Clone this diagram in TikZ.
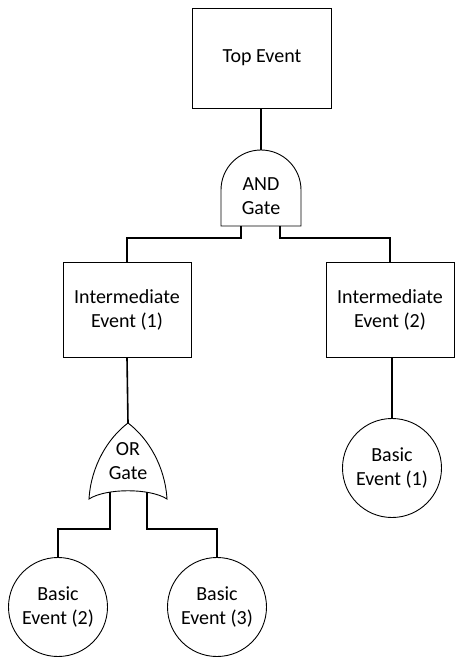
\documentclass[tikz,border=0pt]{standalone}
\usepackage{fontspec}
\setmainfont{Carlito}
\usetikzlibrary{calc,positioning}

\begin{document}
\begin{tikzpicture}[x=1pt, y=-1pt, font=\fontsize{20}{24}\selectfont]
        \tikzset{
            evt/.style ={draw, rectangle, line width=0.9pt, align=center, inner sep=0pt},
            bas/.style ={draw, circle, line width=0.9pt, minimum size=99pt, align=center, inner sep=0pt},
            gtxt/.style={align=center, inner sep=0pt},
            gate/.style={draw, line width=0.9pt, fill=white},
            wire/.style={line width=1.6pt}
        }
        \useasboundingbox (0,0) rectangle (456,658);
        %% ---- Bloques ----
        \node[evt, minimum width=139pt, minimum height=100pt] (top)  at (262, 58)  {Top Event};
        \node[evt, minimum width=128pt, minimum height=95pt]  (int1) at (127, 310) {Intermediate\\Event (1)};
        \node[evt, minimum width=128pt, minimum height=95pt]  (int2) at (390, 310) {Intermediate\\Event (2)};
        \node[bas] (be1) at (392, 468) {Basic\\Event (1)};
        \node[bas] (be2) at (58, 607)  {Basic\\Event (2)};
        \node[bas] (be3) at (217, 607) {Basic\\Event (3)};
        %% ---- Puerta AND ----
        \draw[gate] (221,226) -- (221,190) arc[start angle=180, end angle=360, radius=40] -- (301,226) -- cycle;
        \node[gtxt] (andg) at (261, 196) {AND\\Gate};
        \coordinate (andtop) at (261,150);
        \coordinate (andl) at (241,226);
        \coordinate (andr) at (280,226);
        %% ---- Puerta OR ----
        \draw[gate] (89,499) .. controls (91,466) and (108,438) .. (128,423)
                    .. controls (148,438) and (165,466) .. (167,499)
                    .. controls (150,488) and (106,488) .. cycle;
        \node[gtxt] (org) at (128, 461) {OR\\Gate};
        \coordinate (ortop) at (128,423);
        \coordinate (orl) at (110,492);
        \coordinate (orr) at (147,492);
        %% ---- Conexiones ----
        \draw[wire] (top.south -| andtop) -- (andtop);
        \draw[wire] (andl) -- ++(0,12) -| (int1.north);
        \draw[wire] (andr) -- ++(0,12) -| (int2.north);
        \draw[wire] (int1.south) -- (ortop);
        \draw[wire] (int2.south -| be1.north) -- (be1.north);
        \draw[wire] (orl) -- ++(0,37) -| (be2.north);
        \draw[wire] (orr) -- ++(0,37) -| (be3.north);
    \end{tikzpicture}
\end{document}
